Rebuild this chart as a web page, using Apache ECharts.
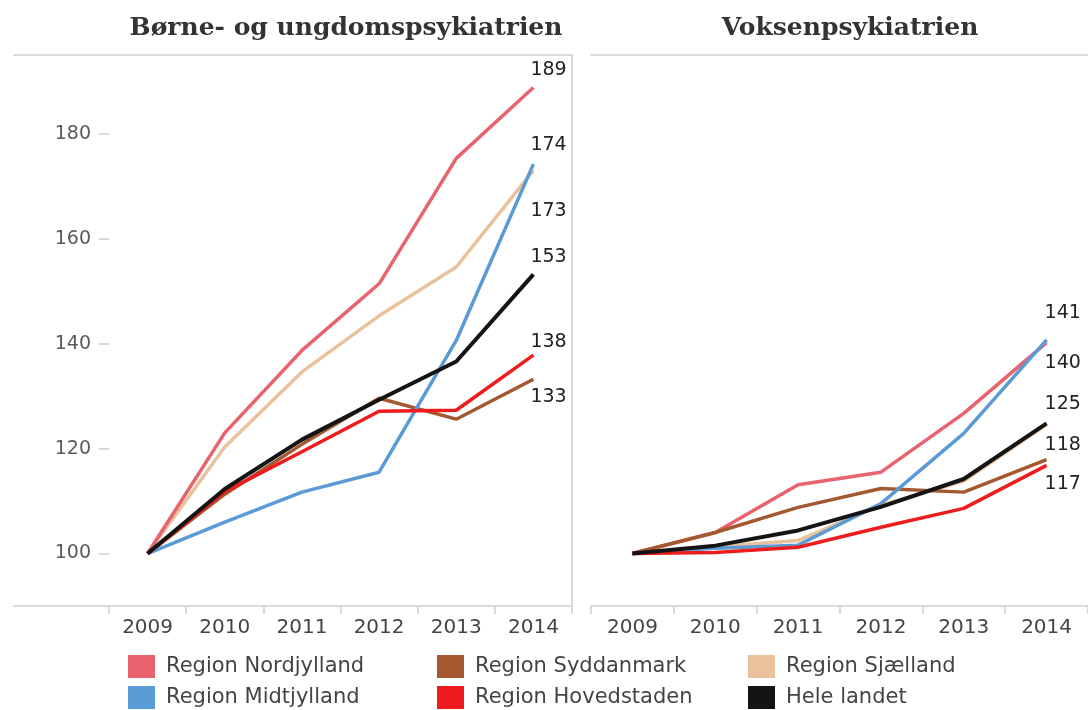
<!DOCTYPE html>
<html>
<head>
<meta charset="utf-8">
<title>Psykiatri indeks</title>
<script src="https://cdn.jsdelivr.net/npm/echarts@6/dist/echarts.min.js"></script>
<style>
  html, body { margin: 0; padding: 0; background: #fff; }
  #m1 { width: 1088px; height: 710px; }
</style>
</head>
<body>
<div id="m1"></div>
<script>
// categories
var years = ['2009', '2010', '2011', '2012', '2013', '2014'];
var yTicks = [100, 120, 140, 160, 180];

// Børne- og ungdomspsykiatrien (index 2009 = 100)
var bNordjylland  = [100, 123.0, 138.7, 151.4, 175.3, 188.8];
var bMidtjylland  = [100, 106.0, 111.7, 115.5, 140.6, 174.2];
var bSyddanmark   = [100, 111.3, 120.8, 129.6, 125.6, 133.2];
var bSjaelland    = [100, 120.3, 134.6, 145.3, 154.6, 173.0];
var bHovedstaden  = [100, 111.8, 119.4, 127.1, 127.3, 137.8];
var bHeleLandet   = [100, 112.3, 121.7, 129.3, 136.6, 153.2];

// Voksenpsykiatrien (index 2009 = 100)
var vNordjylland  = [100, 104.0, 113.1, 115.5, 126.7, 140.2];
var vMidtjylland  = [100, 101.0, 101.6, 109.5, 122.9, 140.7];
var vSyddanmark   = [100, 104.0, 108.8, 112.4, 111.7, 117.9];
var vSjaelland    = [100, 101.3, 102.5, 109.2, 113.8, 124.6];
var vHovedstaden  = [100, 100.2, 101.2, 105.0, 108.6, 116.8];
var vHeleLandet   = [100, 101.5, 104.4, 108.9, 114.2, 124.8];

var names = {
    nord: 'Region Nordjylland',
    midt: 'Region Midtjylland',
    syd: 'Region Syddanmark',
    sj: 'Region Sjælland',
    hov: 'Region Hovedstaden',
    hele: 'Hele landet'
};
var colors = {
    nord: '#e8636e',
    midt: '#5b9bd5',
    syd: '#a4582f',
    sj: '#e9c19a',
    hov: '#ee1c1c',
    hele: '#141414'
};

var SANS = '"DejaVu Sans", Arial, sans-serif';
var SERIF = '"DejaVu Serif", "Liberation Serif", serif';
var FRAME = '#d9d9d9';

window.onload = function () {
    initChart();
};

function makeLine(key, values, grid, dy, dx) {
    return {
        name: names[key],
        type: 'line',
        xAxisIndex: grid === 0 ? 0 : 2,
        yAxisIndex: grid === 0 ? 0 : 2,
        data: values,
        showSymbol: false,
        symbol: 'none',
        lineStyle: { color: colors[key], width: key === 'hele' ? 4 : 3.5 },
        itemStyle: { color: colors[key] },
        z: key === 'hele' ? 4 : 3,
        endLabel: {
            show: dy !== null,
            distance: 0,
            offset: [dx, dy === null ? 0 : dy],
            align: 'left',
            verticalAlign: 'middle',
            color: '#222',
            fontFamily: SANS,
            fontSize: 19,
            formatter: function (p) { return Math.round(p.value); }
        }
    };
}

// axis used only to draw a frame line
function frameAxis(gridIndex, position) {
    return {
        gridIndex: gridIndex, type: 'value', min: 0, max: 1, position: position,
        axisLine: { show: true, onZero: false, lineStyle: { color: FRAME, width: 2 } },
        axisLabel: { show: false },
        axisTick: { show: false },
        splitLine: { show: false }
    };
}

function initChart() {
    var myChart = echarts.init(document.getElementById('m1'));

    var legendCols = [
        { data: [names.nord, names.midt], left: 128 },
        { data: [names.syd, names.hov], left: 437 },
        { data: [names.sj, names.hele], left: 748 }
    ];

    var option = {
        animation: false,
        backgroundColor: '#fff',
        title: [
            {
                text: 'Børne- og ungdomspsykiatrien',
                left: 341, top: 11, textAlign: 'center',
                textStyle: { fontFamily: SERIF, fontWeight: 'bold', fontSize: 25, color: '#333' }
            },
            {
                text: 'Voksenpsykiatrien',
                left: 845, top: 11, textAlign: 'center',
                textStyle: { fontFamily: SERIF, fontWeight: 'bold', fontSize: 25, color: '#333' }
            }
        ],
        legend: legendCols.map(function (l) {
            return {
                data: l.data,
                left: l.left,
                top: 655,
                height: 80,
                padding: 0,
                orient: 'vertical',
                icon: 'rect',
                itemWidth: 27,
                itemHeight: 23,
                itemGap: 8,
                textStyle: { fontFamily: SANS, fontSize: 21, color: '#444', padding: [0, 0, 0, 6] }
            };
        }),
        grid: [
            { left: 109, top: 55, width: 463, height: 551 },
            { left: 14, top: 55, width: 558, height: 551 },
            { left: 591, top: 55, width: 506, height: 551 }
        ],
        xAxis: [
            {   // left panel categories
                gridIndex: 0, type: 'category', data: years, boundaryGap: true,
                axisLine: { show: false },
                axisTick: { show: true, length: 8, lineStyle: { color: FRAME, width: 2 } },
                axisLabel: { margin: 12, fontFamily: SANS, fontSize: 20, color: '#444' }
            },
            frameAxis(1, 'bottom'),
            {   // right panel categories
                gridIndex: 2, type: 'category', data: years, boundaryGap: true,
                axisLine: { show: true, onZero: false, lineStyle: { color: FRAME, width: 2 } },
                axisTick: { show: true, length: 8, lineStyle: { color: FRAME, width: 2 } },
                axisLabel: { margin: 12, fontFamily: SANS, fontSize: 20, color: '#444' }
            },
            frameAxis(1, 'top'),
            frameAxis(2, 'top')
        ],
        yAxis: [
            {
                gridIndex: 0, type: 'value', min: 90, max: 195,
                axisLine: { show: false },
                splitLine: { show: false },
                axisTick: { show: true, customValues: yTicks, length: 10, lineStyle: { color: FRAME, width: 2 } },
                axisLabel: { customValues: yTicks, margin: 18, fontFamily: SANS, fontSize: 19, color: '#5a5a5a' }
            },
            frameAxis(1, 'right'),
            {
                gridIndex: 2, type: 'value', min: 90, max: 195, show: false
            }
        ],
        series: [
            makeLine('sj', bSjaelland, 0, 41, -3),
            makeLine('nord', bNordjylland, 0, -17, -3),
            makeLine('syd', bSyddanmark, 0, 18, -3),
            makeLine('midt', bMidtjylland, 0, -19, -3),
            makeLine('hov', bHovedstaden, 0, -13, -3),
            makeLine('hele', bHeleLandet, 0, -17, -3),

            makeLine('sj', vSjaelland, 1, null, -2),
            makeLine('nord', vNordjylland, 1, 20, -2),
            makeLine('syd', vSyddanmark, 1, -15, -2),
            makeLine('midt', vMidtjylland, 1, -27, -2),
            makeLine('hov', vHovedstaden, 1, 19, -2),
            makeLine('hele', vHeleLandet, 1, -19, -2)
        ]
    };

    myChart.setOption(option);
    window.addEventListener('resize', function () {
        myChart.resize();
    });
}
</script>
</body>
</html>
